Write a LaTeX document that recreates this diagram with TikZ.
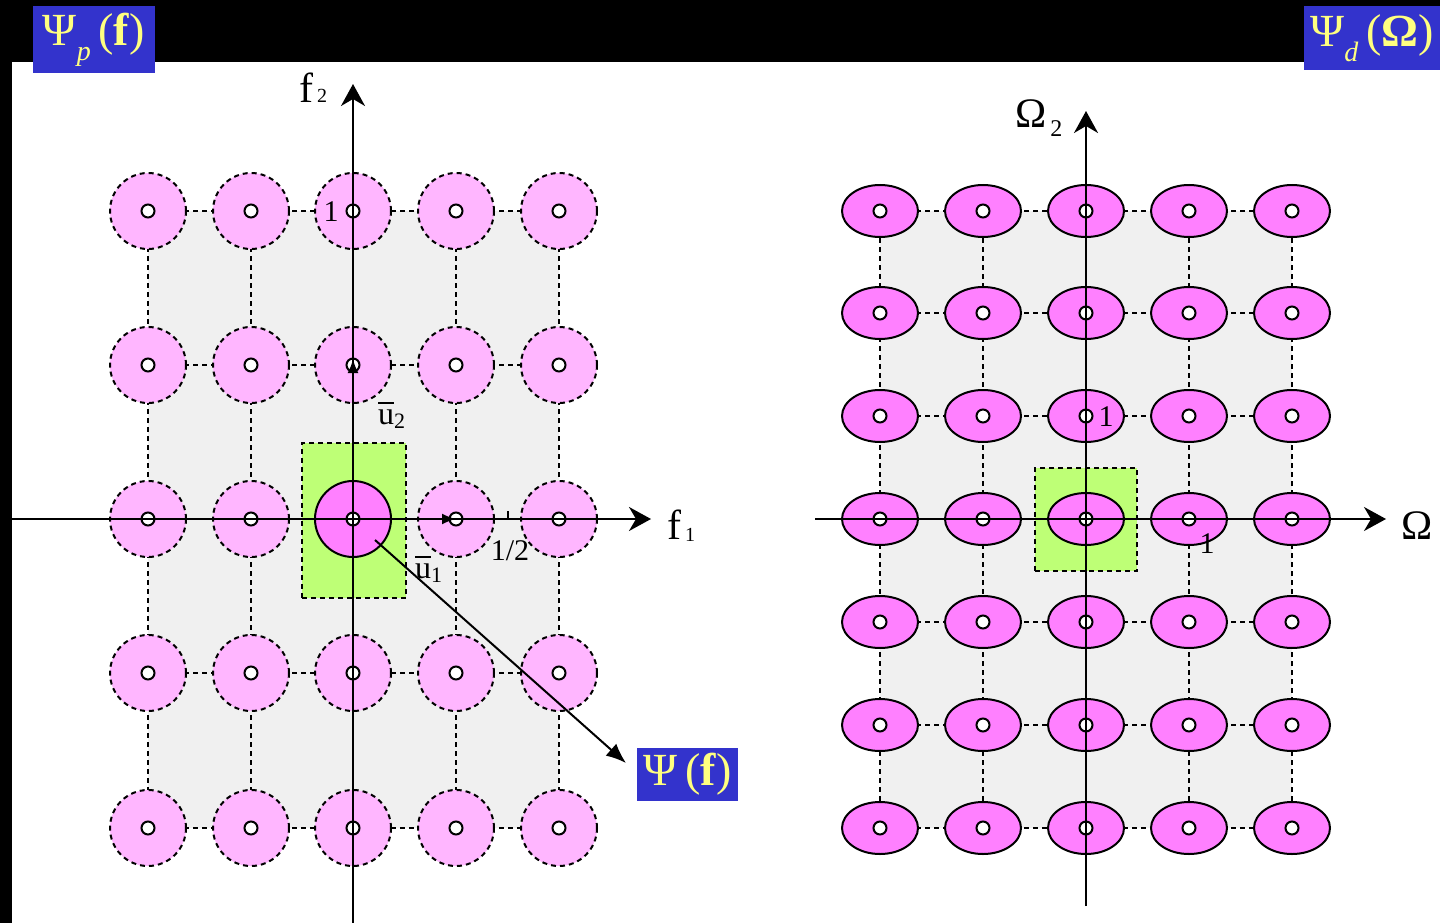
\documentclass[tikz,border=0pt]{standalone}
\usepackage{fontspec}
\setmainfont{Liberation Serif}
\usetikzlibrary{arrows.meta,shapes.geometric}
\definecolor{lpink}{RGB}{255,182,255}
\definecolor{mpink}{RGB}{255,128,255}
\definecolor{lgreen}{RGB}{190,255,118}
\definecolor{lgray}{RGB}{240,240,240}
\definecolor{boxblue}{RGB}{51,51,204}
\definecolor{yel}{RGB}{255,255,128}
\newcommand{\ubar}{\makebox[0pt][l]{\rule[0.62em]{0.5em}{0.06em}}u}
\begin{document}
\begin{tikzpicture}[x=1pt,y=-1pt,
  gridline/.style={draw=black,line width=2pt,dash pattern=on 5pt off 4pt},
  pcirc/.style={circle,fill=lpink,draw=black,line width=2pt,dash pattern=on 5pt off 4pt,minimum size=76pt,inner sep=0pt},
  mcirc/.style={circle,fill=mpink,draw=black,line width=2pt,minimum size=76pt,inner sep=0pt},
  pell/.style={ellipse,fill=mpink,draw=black,line width=2pt,minimum width=76pt,minimum height=52pt,inner sep=0pt},
  cdot/.style={circle,fill=white,draw=black,line width=2pt,minimum size=13pt,inner sep=0pt},
  axisline/.style={draw=black,line width=2pt,-{Stealth[length=22pt,width=24pt,inset=7pt]}},
  greenbox/.style={fill=lgreen,draw=black,line width=2pt,dash pattern=on 5pt off 4pt},
  lbl/.style={inner sep=0pt,font=\fontsize{42}{42}\selectfont},
  small/.style={inner sep=0pt,font=\fontsize{30}{30}\selectfont},
  bluebox/.style={fill=boxblue,text=yel,inner sep=0pt,font=\fontsize{46}{46}\selectfont}
]
\useasboundingbox (0,0) rectangle (1440,923);
\fill[white] (0,0) rectangle (1440,923);
\fill[black] (0,0) rectangle (1440,62);
\fill[black] (0,0) rectangle (12,923);

% ---------- left diagram ----------
\fill[lgray] (148,211) rectangle (559,828);
\foreach \i/\x in {1/148,2/251,3/353,4/456,5/559}
  \foreach \j/\y in {1/211,2/365,3/519,4/673,5/828}
    \coordinate (L-\i-\j) at (\x,\y);
\foreach \j in {1,...,5} \draw[gridline] (L-1-\j) -- (L-5-\j);
\foreach \i in {1,...,5} \draw[gridline] (L-\i-1) -- (L-\i-5);
\node[greenbox,minimum width=104pt,minimum height=155pt] (gL) at (354,520.5) {};
\foreach \i in {1,...,5}
  \foreach \j in {1,...,5}{
    \ifnum\i=3 \ifnum\j=3 \node[mcirc] (LC-\i-\j) at (L-\i-\j) {};
      \else \node[pcirc] (LC-\i-\j) at (L-\i-\j) {}; \fi
    \else \node[pcirc] (LC-\i-\j) at (L-\i-\j) {}; \fi
    \node[cdot] (LD-\i-\j) at (L-\i-\j) {};
  }
\coordinate (LxS) at (12,519);
\coordinate (LxE) at (651,519);
\coordinate (LyS) at (353,923);
\coordinate (LyE) at (353,84);
\draw[axisline] (LxS) -- (LxE);
\draw[axisline] (LyS) -- (LyE);
\coordinate (tickA) at (508,519);
\coordinate (tickB) at (508,511);
\draw[line width=1.6pt] (tickA) -- (tickB);
% unit vectors
\coordinate (u2a) at (353,385);
\coordinate (u2b) at (353,359);
\draw[line width=2pt,-{Latex[length=14pt,width=11pt]}] (u2a) -- (u2b);
\coordinate (u1a) at (430,519);
\coordinate (u1b) at (456,519);
\draw[line width=2pt,-{Latex[length=14pt,width=11pt]}] (u1a) -- (u1b);
\node[lbl,anchor=base west] (f2) at (299,103) {f\hspace{4pt}{\fontsize{20}{20}\selectfont 2}};
\node[lbl,anchor=base west] (f1) at (667,539) {f\hspace{4pt}\raisebox{-2pt}{\fontsize{20}{20}\selectfont 1}};
\node[small,anchor=base] (one1) at (331,221) {1};
\node[small,anchor=base] (half) at (510,560) {1/2};
\node[small,anchor=base west] (u2) at (378,424) {\fontsize{32}{32}\selectfont\ubar\raisebox{-4pt}{\fontsize{22}{22}\selectfont 2}};
\node[small,anchor=base west] (u1) at (415,578) {\fontsize{32}{32}\selectfont\ubar\raisebox{-4pt}{\fontsize{22}{22}\selectfont 1}};
\node[bluebox,minimum width=101pt,minimum height=53pt] (psif) at (687.5,774.5) {Ψ\,(\textbf{f})};
\coordinate (pa) at (375,540);
\coordinate (pb) at (626,763);
\draw[line width=2pt,-{Latex[length=20pt,width=16pt]}] (pa) -- (pb);

% ---------- right diagram ----------
\fill[lgray] (880,211) rectangle (1292,828);
\foreach \i/\x in {1/880,2/983,3/1086,4/1189,5/1292}
  \foreach \j/\y in {1/211,2/313,3/416,4/519,5/622,6/725,7/828}
    \coordinate (R-\i-\j) at (\x,\y);
\foreach \j in {1,...,7} \draw[gridline] (R-1-\j) -- (R-5-\j);
\foreach \i in {1,...,5} \draw[gridline] (R-\i-1) -- (R-\i-7);
\node[greenbox,minimum width=102pt,minimum height=103pt] (gR) at (1086,519.5) {};
\foreach \i in {1,...,5}
  \foreach \j in {1,...,7}{
    \node[pell] (RC-\i-\j) at (R-\i-\j) {};
    \node[cdot] (RD-\i-\j) at (R-\i-\j) {};
  }
\coordinate (RxS) at (815,519);
\coordinate (RxE) at (1386,519);
\coordinate (RyS) at (1086,906);
\coordinate (RyE) at (1086,111);
\draw[axisline] (RxS) -- (RxE);
\draw[axisline] (RyS) -- (RyE);
\node[lbl,anchor=base west] (O2) at (1015,128) {Ω\hspace{4pt}\raisebox{-9pt}{\fontsize{24}{24}\selectfont 2}};
\node[lbl,anchor=base west] (O1) at (1401,539) {Ω};
\node[small,anchor=base] (one2) at (1106,426) {1};
\node[small,anchor=base] (one3) at (1207,553) {1};

% ---------- title boxes ----------
\node[bluebox,minimum width=122pt,minimum height=67pt] (tL) at (94,39.5) {Ψ\raisebox{-15pt}{\fontsize{28}{28}\selectfont\itshape p}\,(\textbf{f})};
\node[bluebox,minimum width=136pt,minimum height=64pt] (tR) at (1372,38) {Ψ\raisebox{-15pt}{\fontsize{28}{28}\selectfont\itshape d}\,(\textbf{Ω})};
\end{tikzpicture}
\end{document}
